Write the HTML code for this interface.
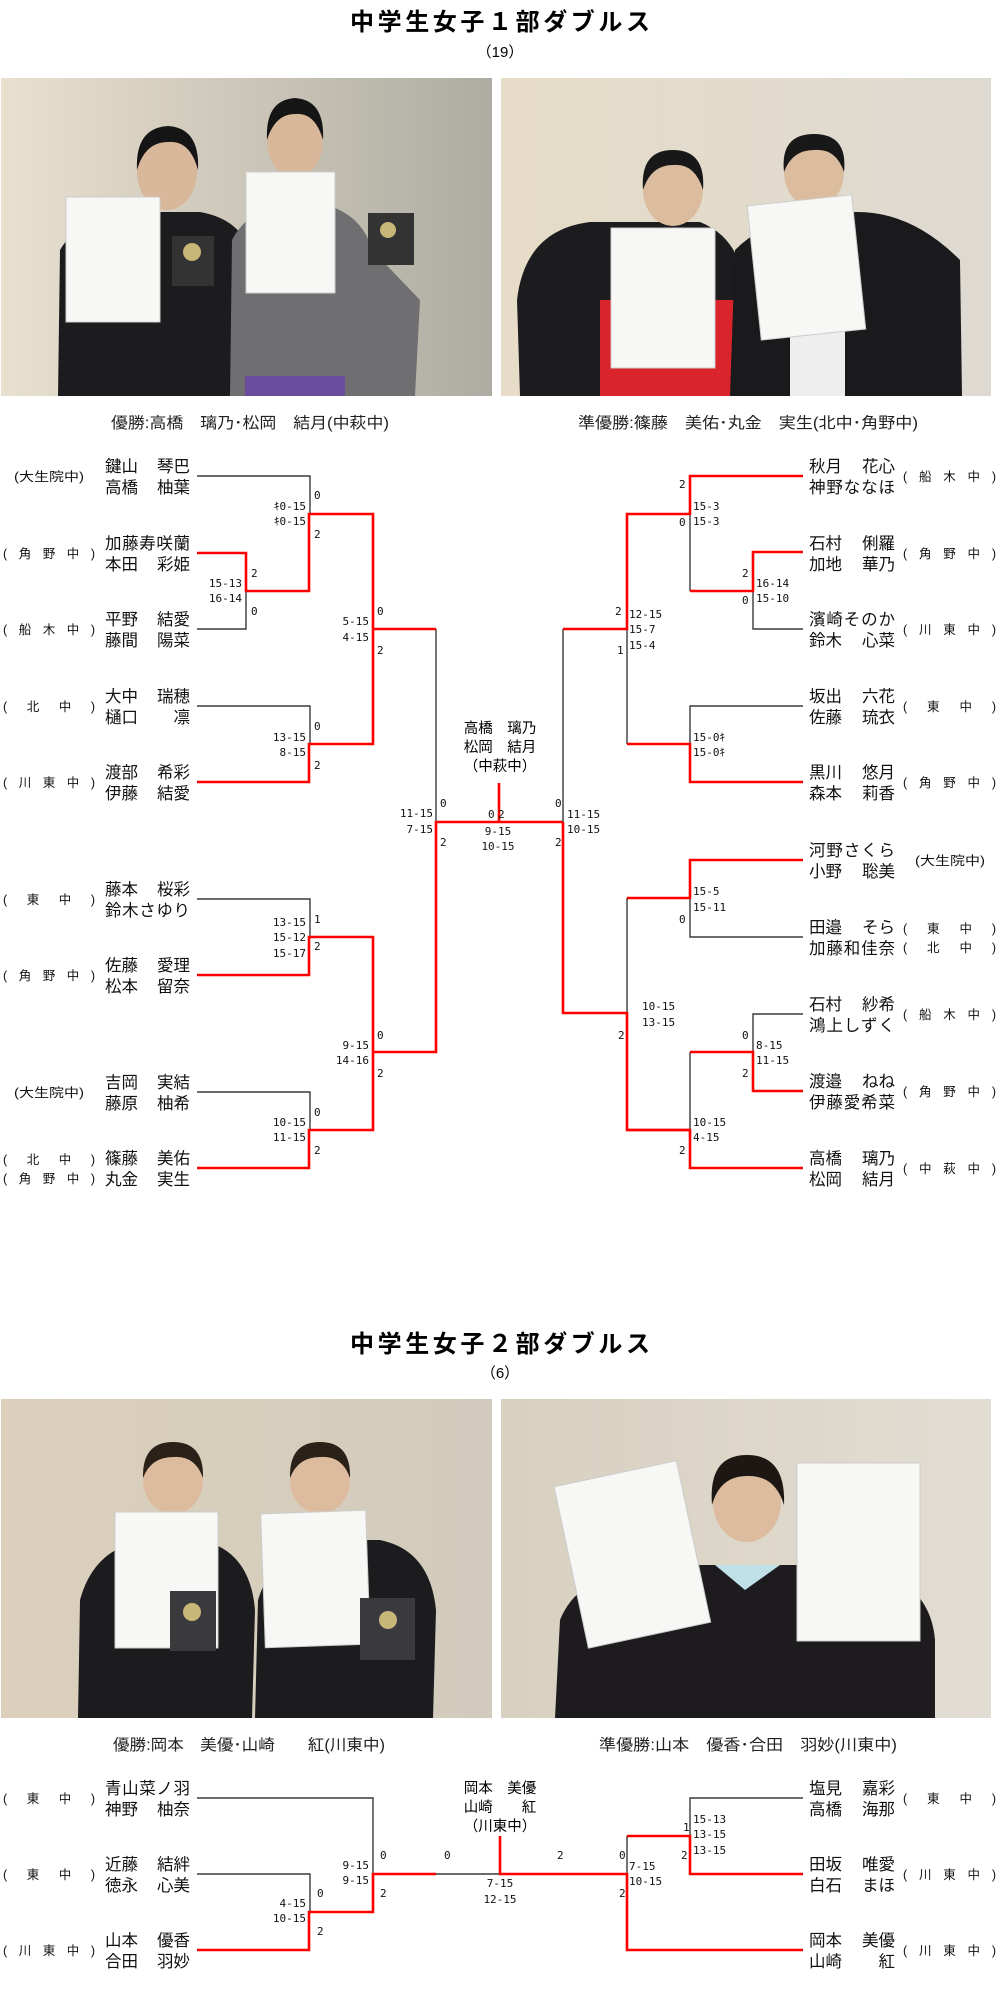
<!DOCTYPE html>
<html><head><meta charset="utf-8"><style>
html,body{margin:0;padding:0;background:#fff;}
svg{display:block;}
.t{font-family:"Liberation Sans","Noto Sans CJK JP",sans-serif;fill:#000;}
.n{font-family:"Liberation Sans","Noto Sans CJK JP",sans-serif;font-size:16.5px;fill:#111;}
.s{font-family:"Liberation Sans","Noto Sans CJK JP",sans-serif;font-size:12.5px;fill:#111;}
.sc{font-family:"DejaVu Sans Mono","Liberation Mono",monospace;font-size:11px;fill:#111;}
.cap{font-family:"Liberation Sans","Noto Sans CJK JP",sans-serif;font-size:15.5px;fill:#222;}
.b{fill:none;stroke:#3a3a3a;stroke-width:1.4;}
.r{fill:none;stroke:#ff0000;stroke-width:2.6;}
</style></head><body>
<svg width="1000" height="1991" viewBox="0 0 1000 1991" xmlns="http://www.w3.org/2000/svg">
<defs>
<linearGradient id="bg1" x1="0" x2="1" y1="0" y2="0"><stop offset="0" stop-color="#e9e0cf"/><stop offset="1" stop-color="#aeaca2"/></linearGradient>
<linearGradient id="bg2" x1="0" x2="1" y1="0" y2="0"><stop offset="0" stop-color="#e6dcc7"/><stop offset="1" stop-color="#dedad2"/></linearGradient>
<linearGradient id="bg3" x1="0" x2="1" y1="0" y2="0"><stop offset="0" stop-color="#dcd0bc"/><stop offset="1" stop-color="#d2cbbd"/></linearGradient>
<linearGradient id="bg4" x1="0" x2="1" y1="0" y2="0"><stop offset="0" stop-color="#d8d0c0"/><stop offset="1" stop-color="#e2ddd3"/></linearGradient>
</defs>

<!-- Titles -->
<text class="t" x="500" y="30" text-anchor="middle" font-size="24" font-weight="bold" textLength="300" lengthAdjust="spacing">中学生女子１部ダブルス</text>
<text class="t" x="500" y="57" text-anchor="middle" font-size="15" fill="#333">（19）</text>

<!-- Photo 1 left -->
<rect x="1" y="78" width="491" height="318" fill="url(#bg1)"/>
<path d="M58 396 L60 250 Q80 215 140 212 L200 212 Q245 220 252 260 L250 396Z" fill="#1c1c1e"/>
<ellipse cx="167" cy="172" rx="30" ry="38" fill="#d9b79a"/>
<path d="M137 170 Q135 128 168 126 Q200 128 198 170 Q190 140 168 142 Q145 142 137 170Z" fill="#151515"/>
<rect x="66" y="197" width="94" height="125" fill="#f7f7f5" stroke="#ccc"/>
<rect x="172" y="236" width="42" height="50" fill="#333"/>
<circle cx="192" cy="252" r="9" fill="#c9b77a"/>
<path d="M230 396 L232 240 Q250 205 300 200 Q360 205 372 250 L420 300 L415 396Z" fill="#6f6f72"/>
<rect x="245" y="376" width="100" height="20" fill="#6a4c9c"/>
<ellipse cx="295" cy="140" rx="28" ry="38" fill="#d9b79a"/>
<path d="M267 140 Q265 100 295 98 Q325 100 323 140 Q315 112 295 114 Q275 114 267 140Z" fill="#151515"/>
<rect x="246" y="172" width="89" height="121" fill="#f7f7f5" stroke="#ccc"/>
<rect x="368" y="213" width="46" height="52" fill="#333"/>
<circle cx="388" cy="230" r="8" fill="#c9b77a"/>

<!-- Photo 1 right -->
<rect x="501" y="78" width="490" height="318" fill="url(#bg2)"/>
<path d="M520 396 L517 300 Q525 230 590 222 L700 222 Q745 240 745 300 L740 396Z" fill="#1c1c1e"/>
<path d="M600 396 L600 300 L745 300 L740 396Z" fill="#d8242a"/>
<ellipse cx="673" cy="190" rx="30" ry="36" fill="#dcbc9f"/>
<path d="M643 190 Q640 150 673 150 Q706 150 703 190 Q695 163 673 165 Q651 165 643 190Z" fill="#181818"/>
<rect x="611" y="228" width="104" height="140" fill="#f7f7f5" stroke="#ccc"/>
<path d="M730 396 L735 250 Q770 215 830 215 Q900 200 960 260 L962 396Z" fill="#1a1a1c"/>
<rect x="790" y="330" width="55" height="66" fill="#eeeeee"/>
<ellipse cx="814" cy="172" rx="30" ry="36" fill="#dcbc9f"/>
<path d="M784 172 Q780 134 814 134 Q848 134 844 172 Q836 148 814 150 Q792 150 784 172Z" fill="#181818"/>
<rect x="754" y="200" width="105" height="135" fill="#f7f7f5" stroke="#ccc" transform="rotate(-6 806 268)"/>

<!-- Captions -->
<text class="cap" x="250" y="428" text-anchor="middle" textLength="278" lengthAdjust="spacingAndGlyphs">優勝:高橋　璃乃･松岡　結月(中萩中)</text>
<text class="cap" x="748" y="428" text-anchor="middle" textLength="340" lengthAdjust="spacingAndGlyphs">準優勝:篠藤　美佑･丸金　実生(北中･角野中)</text>

<!-- Bracket 1 lines -->
<path class="b" d="M197 476 H310 V514"/>
<path class="b" d="M197 629 H246 V591"/>
<path class="b" d="M373 514 V629"/>
<path class="b" d="M197 706 H310 V744"/>
<path class="b" d="M436 629 V822 H499"/>
<path class="b" d="M197 899 H310 V937"/>
<path class="b" d="M373 937 V1052"/>
<path class="b" d="M197 1092 H310 V1130"/>
<path class="r" d="M197 553 H246 V591 H309 V514 H373 V744 H309 V782 H197"/>
<path class="r" d="M373 629 H436"/>
<path class="r" d="M197 1168 H309 V1130 H373 V937 H309 V975 H197"/>
<path class="r" d="M373 1052 H436 V822 H563"/>
<path class="r" d="M499 822 V783"/>
<path class="b" d="M690 514 V591"/>
<path class="b" d="M753 591 V629 H803"/>
<path class="b" d="M627 629 V744"/>
<path class="b" d="M803 706 H690 V744"/>
<path class="b" d="M563 629 V822"/>
<path class="b" d="M690 898 V937 H803"/>
<path class="b" d="M627 898 V1013"/>
<path class="b" d="M803 1014 H753 V1052"/>
<path class="b" d="M690 1052 V1130"/>
<path class="r" d="M803 476 H690 V514 H627 V629 H563"/>
<path class="r" d="M803 552 H753 V591 H690"/>
<path class="r" d="M803 782 H690 V744 H627"/>
<path class="r" d="M803 860 H690 V898 H627"/>
<path class="r" d="M563 822 V1013 H627 V1130 H690 V1168 H803"/>
<path class="r" d="M627 1130 H690"/>
<path class="r" d="M803 1091 H753 V1052 H690"/>

<!-- Left names -->
<g class="n">
<text x="105" y="472">鍵山</text><text x="190" y="472" text-anchor="end">琴巴</text>
<text x="105" y="493">高橋</text><text x="190" y="493" text-anchor="end">柚葉</text>
<text x="105" y="549" textLength="85">加藤寿咲蘭</text>
<text x="105" y="570">本田</text><text x="190" y="570" text-anchor="end">彩姫</text>
<text x="105" y="625">平野</text><text x="190" y="625" text-anchor="end">結愛</text>
<text x="105" y="646">藤間</text><text x="190" y="646" text-anchor="end">陽菜</text>
<text x="105" y="702">大中</text><text x="190" y="702" text-anchor="end">瑞穂</text>
<text x="105" y="723">樋口</text><text x="190" y="723" text-anchor="end">凛</text>
<text x="105" y="778">渡部</text><text x="190" y="778" text-anchor="end">希彩</text>
<text x="105" y="799">伊藤</text><text x="190" y="799" text-anchor="end">結愛</text>
<text x="105" y="895">藤本</text><text x="190" y="895" text-anchor="end">桜彩</text>
<text x="105" y="916" textLength="85">鈴木さゆり</text>
<text x="105" y="971">佐藤</text><text x="190" y="971" text-anchor="end">愛理</text>
<text x="105" y="992">松本</text><text x="190" y="992" text-anchor="end">留奈</text>
<text x="105" y="1088">吉岡</text><text x="190" y="1088" text-anchor="end">実結</text>
<text x="105" y="1109">藤原</text><text x="190" y="1109" text-anchor="end">柚希</text>
<text x="105" y="1164">篠藤</text><text x="190" y="1164" text-anchor="end">美佑</text>
<text x="105" y="1185">丸金</text><text x="190" y="1185" text-anchor="end">実生</text>
</g>
<!-- Left schools -->
<g class="s">
<text x="14" y="481" textLength="70" lengthAdjust="spacingAndGlyphs">(大生院中)</text>
<text x="3" y="558" textLength="92" lengthAdjust="spacing">(角野中)</text>
<text x="3" y="634" textLength="92" lengthAdjust="spacing">(船木中)</text>
<text x="3" y="711" textLength="92" lengthAdjust="spacing">(北中)</text>
<text x="3" y="787" textLength="92" lengthAdjust="spacing">(川東中)</text>
<text x="3" y="904" textLength="92" lengthAdjust="spacing">(東中)</text>
<text x="3" y="980" textLength="92" lengthAdjust="spacing">(角野中)</text>
<text x="14" y="1097" textLength="70" lengthAdjust="spacingAndGlyphs">(大生院中)</text>
<text x="3" y="1164" textLength="92" lengthAdjust="spacing">(北中)</text>
<text x="3" y="1183" textLength="92" lengthAdjust="spacing">(角野中)</text>
</g>
<!-- Right names -->
<g class="n">
<text x="809" y="472">秋月</text><text x="895" y="472" text-anchor="end">花心</text>
<text x="809" y="493" textLength="86">神野ななほ</text>
<text x="809" y="549">石村</text><text x="895" y="549" text-anchor="end">俐羅</text>
<text x="809" y="570">加地</text><text x="895" y="570" text-anchor="end">華乃</text>
<text x="809" y="625" textLength="86">濱崎そのか</text>
<text x="809" y="646">鈴木</text><text x="895" y="646" text-anchor="end">心菜</text>
<text x="809" y="702">坂出</text><text x="895" y="702" text-anchor="end">六花</text>
<text x="809" y="723">佐藤</text><text x="895" y="723" text-anchor="end">琉衣</text>
<text x="809" y="778">黒川</text><text x="895" y="778" text-anchor="end">悠月</text>
<text x="809" y="799">森本</text><text x="895" y="799" text-anchor="end">莉香</text>
<text x="809" y="856" textLength="86">河野さくら</text>
<text x="809" y="877">小野</text><text x="895" y="877" text-anchor="end">聡美</text>
<text x="809" y="933">田邉</text><text x="895" y="933" text-anchor="end">そら</text>
<text x="809" y="954" textLength="86">加藤和佳奈</text>
<text x="809" y="1010">石村</text><text x="895" y="1010" text-anchor="end">紗希</text>
<text x="809" y="1031" textLength="86">鴻上しずく</text>
<text x="809" y="1087">渡邉</text><text x="895" y="1087" text-anchor="end">ねね</text>
<text x="809" y="1108" textLength="86">伊藤愛希菜</text>
<text x="809" y="1164">高橋</text><text x="895" y="1164" text-anchor="end">璃乃</text>
<text x="809" y="1185">松岡</text><text x="895" y="1185" text-anchor="end">結月</text>
</g>
<g class="s">
<text x="903" y="481" textLength="93" lengthAdjust="spacing">(船木中)</text>
<text x="903" y="558" textLength="93" lengthAdjust="spacing">(角野中)</text>
<text x="903" y="634" textLength="93" lengthAdjust="spacing">(川東中)</text>
<text x="903" y="711" textLength="93" lengthAdjust="spacing">(東中)</text>
<text x="903" y="787" textLength="93" lengthAdjust="spacing">(角野中)</text>
<text x="915" y="865" textLength="70" lengthAdjust="spacingAndGlyphs">(大生院中)</text>
<text x="903" y="933" textLength="93" lengthAdjust="spacing">(東中)</text>
<text x="903" y="952" textLength="93" lengthAdjust="spacing">(北中)</text>
<text x="903" y="1019" textLength="93" lengthAdjust="spacing">(船木中)</text>
<text x="903" y="1096" textLength="93" lengthAdjust="spacing">(角野中)</text>
<text x="903" y="1173" textLength="93" lengthAdjust="spacing">(中萩中)</text>
</g>

<!-- Winner center -->
<g class="t" font-size="14.5">
<text x="500" y="733" text-anchor="middle">高橋　璃乃</text>
<text x="500" y="752" text-anchor="middle">松岡　結月</text>
<text x="500" y="771" text-anchor="middle">（中萩中）</text>
</g>

<!-- Scores bracket 1 -->
<g class="sc">
<text x="306" y="510" text-anchor="end">ｷ0-15</text><text x="306" y="525" text-anchor="end">ｷ0-15</text>
<text x="314" y="499">0</text><text x="314" y="538">2</text>
<text x="242" y="587" text-anchor="end">15-13</text><text x="242" y="602" text-anchor="end">16-14</text>
<text x="251" y="577">2</text><text x="251" y="615">0</text>
<text x="369" y="625" text-anchor="end">5-15</text><text x="369" y="641" text-anchor="end">4-15</text>
<text x="377" y="615">0</text><text x="377" y="654">2</text>
<text x="306" y="741" text-anchor="end">13-15</text><text x="306" y="756" text-anchor="end">8-15</text>
<text x="314" y="730">0</text><text x="314" y="769">2</text>
<text x="433" y="817" text-anchor="end">11-15</text><text x="433" y="833" text-anchor="end">7-15</text>
<text x="440" y="807">0</text><text x="440" y="846">2</text>
<text x="306" y="926" text-anchor="end">13-15</text><text x="306" y="941" text-anchor="end">15-12</text><text x="306" y="957" text-anchor="end">15-17</text>
<text x="314" y="923">1</text><text x="314" y="950">2</text>
<text x="369" y="1049" text-anchor="end">9-15</text><text x="369" y="1064" text-anchor="end">14-16</text>
<text x="377" y="1039">0</text><text x="377" y="1077">2</text>
<text x="306" y="1126" text-anchor="end">10-15</text><text x="306" y="1141" text-anchor="end">11-15</text>
<text x="314" y="1116">0</text><text x="314" y="1154">2</text>
<text x="488" y="818">0</text><text x="498" y="818">2</text>
<text x="498" y="835" text-anchor="middle">9-15</text><text x="498" y="850" text-anchor="middle">10-15</text>
<text x="555" y="807">0</text><text x="555" y="846">2</text>
<text x="567" y="818">11-15</text><text x="567" y="833">10-15</text>
<text x="679" y="488">2</text><text x="679" y="526">0</text>
<text x="693" y="510">15-3</text><text x="693" y="525">15-3</text>
<text x="742" y="577">2</text><text x="742" y="604">0</text>
<text x="756" y="587">16-14</text><text x="756" y="602">15-10</text>
<text x="615" y="615">2</text><text x="617" y="654">1</text>
<text x="629" y="618">12-15</text><text x="629" y="633">15-7</text><text x="629" y="649">15-4</text>
<text x="693" y="741">15-0ｷ</text><text x="693" y="756">15-0ｷ</text>
<text x="693" y="895">15-5</text><text x="693" y="911">15-11</text>
<text x="679" y="923">0</text>
<text x="642" y="1010">10-15</text><text x="642" y="1026">13-15</text>
<text x="618" y="1039">2</text>
<text x="742" y="1039">0</text><text x="742" y="1077">2</text>
<text x="756" y="1049">8-15</text><text x="756" y="1064">11-15</text>
<text x="693" y="1126">10-15</text><text x="693" y="1141">4-15</text>
<text x="679" y="1154">2</text>
</g>

<!-- Section 2 -->
<text class="t" x="500" y="1352" text-anchor="middle" font-size="24" font-weight="bold" textLength="300" lengthAdjust="spacing">中学生女子２部ダブルス</text>
<text class="t" x="500" y="1378" text-anchor="middle" font-size="15" fill="#333">（6）</text>

<!-- Photo 2 left -->
<rect x="1" y="1399" width="491" height="319" fill="url(#bg3)"/>
<path d="M78 1718 L80 1600 Q95 1545 150 1540 L200 1540 Q250 1550 255 1610 L252 1718Z" fill="#1c1c1e"/>
<ellipse cx="173" cy="1480" rx="30" ry="34" fill="#dcbb9e"/>
<path d="M143 1478 Q142 1442 173 1442 Q204 1442 203 1478 Q195 1455 173 1457 Q151 1457 143 1478Z" fill="#2a2118"/>
<rect x="115" y="1512" width="103" height="136" fill="#f7f7f5" stroke="#ccc"/>
<rect x="170" y="1591" width="46" height="60" fill="#3a3a3c"/>
<circle cx="192" cy="1612" r="9" fill="#c9b77a"/>
<path d="M255 1718 L258 1600 Q275 1545 330 1540 L380 1540 Q430 1550 436 1610 L433 1718Z" fill="#1c1c1e"/>
<ellipse cx="320" cy="1480" rx="30" ry="34" fill="#dcbb9e"/>
<path d="M290 1478 Q289 1442 320 1442 Q351 1442 350 1478 Q342 1455 320 1457 Q298 1457 290 1478Z" fill="#2a2118"/>
<rect x="263" y="1512" width="105" height="134" fill="#f7f7f5" stroke="#ccc" transform="rotate(-2 315 1580)"/>
<rect x="360" y="1598" width="55" height="62" fill="#3a3a3c"/>
<circle cx="388" cy="1620" r="9" fill="#c9b77a"/>

<!-- Photo 2 right -->
<rect x="501" y="1399" width="490" height="319" fill="url(#bg4)"/>
<path d="M555 1718 L560 1620 Q580 1570 660 1565 L860 1565 Q930 1580 935 1640 L935 1718Z" fill="#1e1b1e"/>
<path d="M715 1565 L745 1590 L780 1565Z" fill="#bfe0e6"/>
<ellipse cx="747" cy="1502" rx="34" ry="40" fill="#dcbb9e"/>
<path d="M712 1505 Q708 1455 747 1455 Q786 1455 784 1505 Q775 1475 747 1476 Q720 1476 712 1505Z" fill="#1c1712"/>
<rect x="570" y="1472" width="125" height="165" fill="#f7f7f5" stroke="#ccc" transform="rotate(-12 632 1555)"/>
<rect x="797" y="1463" width="123" height="178" fill="#f7f7f5" stroke="#ccc"/>

<text class="cap" x="249" y="1750" text-anchor="middle" textLength="272" lengthAdjust="spacingAndGlyphs">優勝:岡本　美優･山崎　　紅(川東中)</text>
<text class="cap" x="748" y="1750" text-anchor="middle" textLength="298" lengthAdjust="spacingAndGlyphs">準優勝:山本　優香･合田　羽妙(川東中)</text>

<!-- Bracket 2 lines -->
<path class="b" d="M197 1798 H373 V1874"/>
<path class="b" d="M197 1874 H310 V1912"/>
<path class="b" d="M436 1874 H500"/>
<path class="b" d="M627 1836 V1874"/>
<path class="b" d="M803 1798 H690 V1836"/>
<path class="r" d="M197 1950 H309 V1912 H373 V1874 H436"/>
<path class="r" d="M500 1836 V1874 H627 V1950 H803"/>
<path class="r" d="M627 1836 H690 V1874 H803"/>

<g class="n">
<text x="105" y="1794" textLength="85">青山菜ノ羽</text>
<text x="105" y="1815">神野</text><text x="190" y="1815" text-anchor="end">柚奈</text>
<text x="105" y="1870">近藤</text><text x="190" y="1870" text-anchor="end">結絆</text>
<text x="105" y="1891">徳永</text><text x="190" y="1891" text-anchor="end">心美</text>
<text x="105" y="1946">山本</text><text x="190" y="1946" text-anchor="end">優香</text>
<text x="105" y="1967">合田</text><text x="190" y="1967" text-anchor="end">羽妙</text>
<text x="809" y="1794">塩見</text><text x="895" y="1794" text-anchor="end">嘉彩</text>
<text x="809" y="1815">高橋</text><text x="895" y="1815" text-anchor="end">海那</text>
<text x="809" y="1870">田坂</text><text x="895" y="1870" text-anchor="end">唯愛</text>
<text x="809" y="1891">白石</text><text x="895" y="1891" text-anchor="end">まほ</text>
<text x="809" y="1946">岡本</text><text x="895" y="1946" text-anchor="end">美優</text>
<text x="809" y="1967">山崎</text><text x="895" y="1967" text-anchor="end">紅</text>
</g>
<g class="s">
<text x="3" y="1803" textLength="92" lengthAdjust="spacing">(東中)</text>
<text x="3" y="1879" textLength="92" lengthAdjust="spacing">(東中)</text>
<text x="3" y="1955" textLength="92" lengthAdjust="spacing">(川東中)</text>
<text x="903" y="1803" textLength="93" lengthAdjust="spacing">(東中)</text>
<text x="903" y="1879" textLength="93" lengthAdjust="spacing">(川東中)</text>
<text x="903" y="1955" textLength="93" lengthAdjust="spacing">(川東中)</text>
</g>
<g class="t" font-size="14.5">
<text x="500" y="1793" text-anchor="middle">岡本　美優</text>
<text x="500" y="1812" text-anchor="middle">山崎　　紅</text>
<text x="500" y="1831" text-anchor="middle">（川東中）</text>
</g>
<g class="sc">
<text x="369" y="1869" text-anchor="end">9-15</text><text x="369" y="1884" text-anchor="end">9-15</text>
<text x="380" y="1859">0</text><text x="380" y="1897">2</text>
<text x="444" y="1859">0</text>
<text x="306" y="1907" text-anchor="end">4-15</text><text x="306" y="1922" text-anchor="end">10-15</text>
<text x="317" y="1897">0</text><text x="317" y="1935">2</text>
<text x="500" y="1887" text-anchor="middle">7-15</text><text x="500" y="1903" text-anchor="middle">12-15</text>
<text x="557" y="1859">2</text>
<text x="619" y="1859">0</text><text x="619" y="1897">2</text>
<text x="629" y="1870">7-15</text><text x="629" y="1885">10-15</text>
<text x="683" y="1831">1</text><text x="681" y="1859">2</text>
<text x="693" y="1823">15-13</text><text x="693" y="1838">13-15</text><text x="693" y="1854">13-15</text>
</g>
</svg>
</body></html>
